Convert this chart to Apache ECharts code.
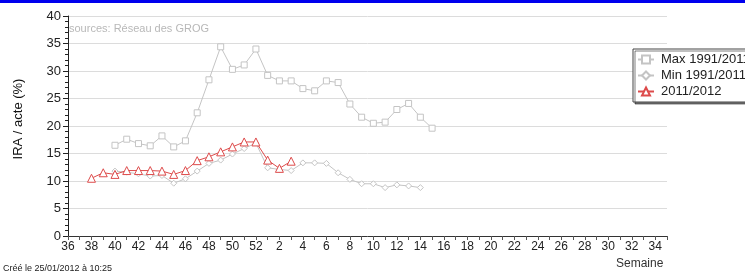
<!DOCTYPE html>
<html>
<head>
<meta charset="utf-8">
<script src="https://cdn.jsdelivr.net/npm/echarts@6/dist/echarts.min.js"></script>
<style>
    html, body { margin: 0; padding: 0; background: #fff; }
    #display-chart { width: 745px; height: 273px; }
</style>
</head>
<body>
<div id="display-chart"></div>
<script>
// semaines : 36 -> 52 puis 1 -> 35
var weeks = ['36', '37', '38', '39', '40', '41', '42', '43', '44', '45', '46', '47', '48', '49', '50', '51', '52',
    '1', '2', '3', '4', '5', '6', '7', '8', '9', '10', '11', '12', '13', '14', '15', '16', '17', '18',
    '19', '20', '21', '22', '23', '24', '25', '26', '27', '28', '29', '30', '31', '32', '33', '34', '35'];

// Max 1991/2011 (semaines 40 -> 15)
var maxVals = [null, null, null, null,
    16.5, 17.6, 16.8, 16.4, 18.2, 16.2, 17.3, 22.4, 28.4, 34.4, 30.3, 31.1, 34.0,
    29.2, 28.2, 28.2, 26.8, 26.4, 28.2, 27.9, 24.0, 21.6, 20.5, 20.7, 23.0, 24.1, 21.6, 19.6];

// Min 1991/2011 (semaines 40 -> 14)
var minVals = [null, null, null, null,
    11.8, 11.6, 11.3, 10.9, 11.0, 9.6, 10.4, 11.8, 13.2, 13.8, 14.9, 15.9, 16.9,
    12.4, 12.1, 11.9, 13.3, 13.3, 13.2, 11.5, 10.3, 9.5, 9.5, 8.8, 9.3, 9.1, 8.8];

// saison 2011/2012 (semaines 38 -> 3)
var curVals = [null, null,
    10.5, 11.5, 11.2, 11.9, 11.9, 11.9, 11.8, 11.2, 11.9, 13.7, 14.4, 15.3, 16.2, 17.1, 17.1,
    13.8, 12.3, 13.6];

var grey = '#c4c4c4';
var red = '#dd4b4b';

var myChart = echarts.init(document.getElementById('display-chart'));
myChart.setOption({
    animation: false,
    textStyle: { fontFamily: 'Liberation Sans' },
    grid: { //zone du graphique
        left: 68,
        top: 16,
        right: 78,
        bottom: 37
    },
    graphic: [
        { type: 'rect', left: 0, top: 0, shape: { width: 745, height: 3 }, style: { fill: '#0000ee' } },
        { type: 'text', left: 69, top: 23, style: { text: 'sources: Réseau des GROG', fill: '#b8b8b8', font: '11px "Liberation Sans"' } },
        { type: 'text', x: 18, y: 119, rotation: Math.PI / 2, style: { text: 'IRA / acte (%)', fill: '#111', font: '13px "Liberation Sans"', align: 'center', verticalAlign: 'middle' } },
        { type: 'text', left: 616, top: 258, style: { text: 'Semaine', fill: '#333', font: '12px "Liberation Sans"' } },
        { type: 'text', left: 3, top: 264, style: { text: 'Créé le 25/01/2012 à 10:25', fill: '#222', font: '9px "Liberation Sans"' } }
    ],
    legend: {
        orient: 'vertical',
        left: 633,
        top: 49,
        padding: [4, 12, 4, 4],
        itemGap: 3,
        itemWidth: 16,
        itemHeight: 10,
        backgroundColor: '#fff',
        borderColor: '#444',
        borderWidth: 1,
        shadowColor: 'rgba(0,0,0,0.5)',
        shadowOffsetX: 2,
        shadowOffsetY: 2,
        shadowBlur: 0,
        textStyle: { fontSize: 13, color: '#222', padding: [0, 0, 0, 2] },
        data: ['Max 1991/2011', 'Min 1991/2011', '2011/2012']
    },
    xAxis: {
        type: 'category',
        data: weeks,
        boundaryGap: false,
        axisLine: { lineStyle: { color: '#333' } },
        axisTick: { interval: 0, length: 4, lineStyle: { color: '#555' } },
        axisLabel: { interval: 1, margin: 5, fontSize: 12, color: '#222' },
        splitLine: { show: false }
    },
    yAxis: {
        type: 'value',
        min: 0,
        max: 40,
        interval: 5,
        axisLine: { show: true, lineStyle: { color: '#222' } },
        axisTick: { show: true, inside: false, length: 5, lineStyle: { color: '#222' } },
        minorTick: { show: true, splitNumber: 5, length: 3, lineStyle: { color: '#222' } },
        axisLabel: { margin: 7, fontSize: 13, color: '#222' },
        splitLine: { lineStyle: { color: '#dcdcdc' } }
    },
    series: [{
        name: 'Max 1991/2011',
        type: 'line',
        data: maxVals,
        symbol: 'rect',
        symbolSize: 6,
        showAllSymbol: true,
        lineStyle: { color: grey, width: 1 },
        itemStyle: { color: '#fff', borderColor: grey, borderWidth: 1 }
    }, {
        name: 'Min 1991/2011',
        type: 'line',
        data: minVals,
        symbol: 'diamond',
        symbolSize: 6,
        showAllSymbol: true,
        lineStyle: { color: grey, width: 1 },
        itemStyle: { color: '#fff', borderColor: grey, borderWidth: 1 }
    }, {
        name: '2011/2012',
        type: 'line',
        data: curVals,
        symbol: 'triangle',
        symbolSize: 8,
        showAllSymbol: true,
        lineStyle: { color: red, width: 1 },
        itemStyle: { color: '#fff', borderColor: red, borderWidth: 1 },
        z: 5
    }]
});
</script>
</body>
</html>
